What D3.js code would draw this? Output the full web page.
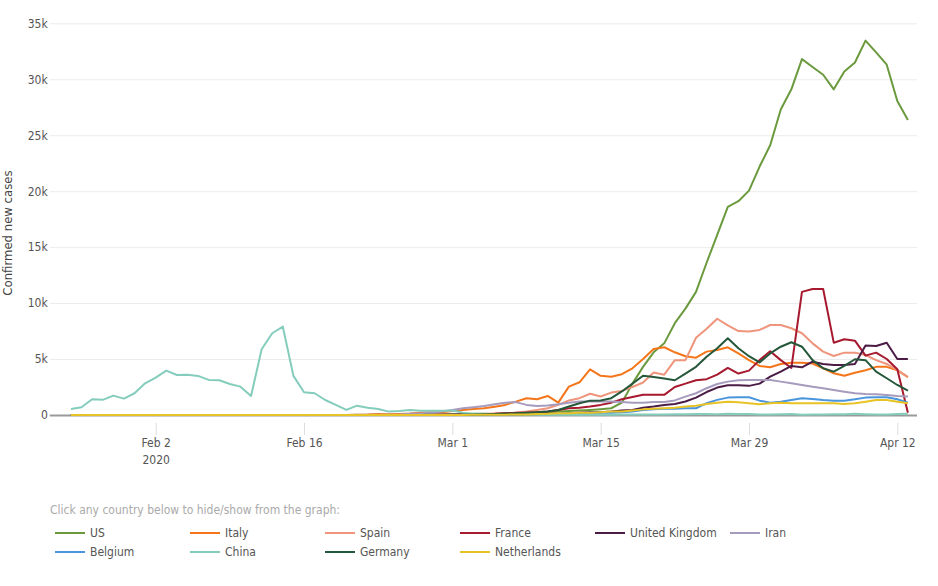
<!DOCTYPE html>
<html>
  <head>
    <meta charset="utf-8">
    <script src="https://d3js.org/d3.v7.min.js"></script>
    <style>
      body { margin: 0; background: #fff; }
      svg text { font-family: "DejaVu Sans Condensed", "DejaVu Sans", sans-serif; }
    </style>
  </head>
  <body>
    <svg width="938" height="586" id="chart"></svg>
    <script>

    // countries, in legend / drawing order
    var countries = ["US", "Italy", "Spain", "France", "United Kingdom", "Iran", "Belgium", "China", "Germany", "Netherlands"];
    var colors = ["#6b9a3e", "#f5761a", "#ee957c", "#a6192e", "#4b1c46", "#a69bbd", "#4a95dc", "#84cdbd", "#25573a", "#e8c325"];

    // daily new confirmed cases, Jan 25 2020 .. Apr 13 2020
    var us = [0,3,0,0,0,0,1,1,1,3, 0,0,0,0,1,0,0,1,0,0, 0,0,0,0,0,0,0,0,2,0,
      0,0,6,1,2,3,8,6,23,20, 40,60,110,120,110,250,300,350,400,450,
      520,600,1100,2800,4300,5600,6400,8200,9500,11000,
      13600,16100,18600,19100,20050,22200,24100,27300,29100,31800,
      31100,30400,29100,30700,31500,33450,32400,31300,28060,26360];
    var italy = [0,0,0,0,0,0,2,0,0,0, 0,0,0,0,1,0,0,0,0,0, 0,0,0,0,0,0,0,17,42,93,
      74,93,131,202,233,240,350,450,540,600, 740,900,1190,1490,1400,1700,1100,2530,2920,4080,
      3500,3420,3640,4170,5000,5900,6050,5600,5250,5120,
      5660,5800,6050,5500,4900,4380,4260,4560,4670,4670,
      4600,4170,3730,3500,3780,4000,4300,4300,4000,3370];
    var spain = [0,0,0,0,0,0,0,1,0,0, 0,0,0,0,0,0,0,1,0,0, 0,0,0,0,0,0,0,0,0,0,
      0,1,10,5,17,13,40,50,90,100, 120,150,200,300,450,600,900,1300,1500,1900,
      1650,2000,2150,2500,2900,3800,3600,4900,4900,6900,
      7700,8600,8000,7500,7450,7600,8040,8040,7750,7300,
      6400,5660,5270,5570,5570,5360,4900,4560,4000,3400];
    var france = [3,0,0,0,1,0,0,0,0,0, 0,0,0,0,5,0,0,1,0,0, 0,0,0,0,0,0,0,0,0,0,
      0,0,6,20,19,43,30,61,13,84, 100,150,200,200,250,300,450,600,650,750,
      900,1100,1400,1600,1800,1800,1800,2500,2800,3100,
      3200,3600,4200,3700,3960,4900,5700,4900,4200,11000,
      11260,11260,6460,6760,6640,5300,5570,5000,4080,200];
    var uk = [0,0,0,0,0,0,2,0,0,0, 0,0,0,0,1,0,0,0,0,0, 0,0,0,0,0,0,0,0,0,0,
      4,0,0,2,5,3,12,13,4,11, 30,50,50,50,70,100,100,150,200,250,
      250,300,400,450,650,750,900,980,1200,1550,
      2050,2450,2650,2650,2600,2800,3420,3870,4380,4260,
      4760,4560,4470,4470,4560,6200,6170,6460,5000,5000];
    var iran = [0,0,0,0,0,0,0,0,0,0, 0,0,0,0,0,0,0,0,0,0, 0,0,0,0,0,2,3,13,10,15,
      25,50,100,140,200,300,450,600,700,800, 950,1100,1150,900,800,850,950,1100,1200,1200,
      1200,1200,1150,1100,1100,1150,1150,1300,1640,1940,
      2390,2770,2980,3100,3130,3130,3130,2980,2830,2680,
      2530,2390,2230,2080,1940,1880,1850,1790,1700,1640];
    var belgium = [0,0,0,0,0,0,0,0,0,0, 1,0,0,0,0,0,0,0,0,0, 0,0,0,0,0,0,0,0,0,0,
      0,0,0,0,0,0,1,7,6,10, 23,50,60,80,100,50,100,150,150,200,
      200,200,250,300,450,500,550,550,600,600,
      1050,1350,1550,1580,1580,1280,1100,1190,1340,1490,
      1430,1340,1280,1280,1400,1550,1580,1580,1400,1100];
    var china = [540,690,1400,1350,1730,1460,1940,2830,3330,3960,
      3570,3600,3490,3130,3100,2770,2530,1700,5870,7300,
      7890,3490,2030,1940,1340,900,450,830,650,540,
      300,360,450,380,380,380,400,200,120,100, 60,40,45,20,25,10,25,20,15,20,
      25,30,40,45,50,40,45,60,70,80, 90,60,100,80,80,50,50,70,80,30,
      40,40,60,60,100,60,40,50,90,100];
    var germany = [0,0,0,1,3,0,0,0,0,2, 0,0,0,0,0,0,0,0,0,0, 0,0,0,0,0,0,0,0,0,0,
      0,0,0,5,20,10,45,30,50,60, 80,120,150,200,250,300,450,750,1050,1280,
      1300,1500,2100,2800,3500,3400,3250,3100,3700,4300,
      5200,5960,6850,5960,5250,4700,5500,6100,6500,6100,
      4900,4170,3870,4380,4980,4900,3870,3280,2680,2170];
    var netherlands = [0,0,0,0,0,0,0,0,0,0, 0,0,0,0,0,0,0,0,0,0, 0,0,0,0,0,0,0,0,0,0,
      0,0,0,0,1,1,6,5,14,14, 20,30,50,50,80,100,150,150,200,200,
      250,300,300,400,500,550,600,650,750,830,
      980,1100,1190,1130,1050,960,1050,1100,1050,1050,
      1050,1050,1050,980,1050,1190,1340,1340,1190,1050];

    var seriesValues = [us, italy, spain, france, uk, iran, belgium, china, germany, netherlands];

    var yTicks = [0, 5000, 10000, 15000, 20000, 25000, 30000, 35000];
    var xTicks = ["2020-02-02", "2020-02-16", "2020-03-01", "2020-03-15", "2020-03-29", "2020-04-12"];

    var parse = d3.timeParse("%Y-%m-%d");
    var dates = d3.timeDay.range(parse("2020-01-25"), parse("2020-04-14"));

    var svg = d3.select("#chart");
    var plotLeft = 49.75, plotRight = 918.5, plotTop = 23.3, plotBottom = 422.8;

    var x = d3.scaleTime()
        .domain([parse("2020-01-23"), parse("2020-04-14")])
        .range([plotLeft, plotRight]);
    var y = d3.scaleLinear()
        .domain([-700, 35000])
        .range([plotBottom, plotTop]);

    // horizontal grid + y labels
    var yAxis = svg.append("g")
        .attr("transform", "translate(" + plotLeft + ",0)")
        .call(d3.axisLeft(y).tickValues(yTicks).tickSize(-(917 - plotLeft)).tickPadding(2)
          .tickFormat(function(d) { return d === 0 ? "0" : (d / 1000) + "k"; }));
    yAxis.select(".domain").remove();
    yAxis.selectAll(".tick line")
        .attr("stroke", function(d) { return d === 0 ? "#9a9a9a" : "#ececec"; })
        .attr("stroke-width", function(d) { return d === 0 ? 2 : 1; });
    yAxis.selectAll(".tick text")
        .attr("fill", "#555")
        .attr("font-size", "12px");

    // x axis (ticks hang below the plot)
    var xAxis = svg.append("g")
        .attr("transform", "translate(0," + plotBottom + ")")
        .call(d3.axisBottom(x).tickValues(xTicks.map(parse)).tickSize(12).tickPadding(4)
          .tickFormat(d3.timeFormat("%b %-d")));
    xAxis.select(".domain").remove();
    xAxis.selectAll(".tick line").attr("stroke", "#dcdcdc");
    xAxis.selectAll(".tick text")
        .attr("fill", "#555")
        .attr("font-size", "12px");
    xAxis.select(".tick text")
      .append("tspan")
        .attr("x", 0)
        .attr("dy", "1.35em")
        .text("2020");

    svg.append("text")
        .attr("transform", "translate(12," + ((plotTop + plotBottom) / 2 + 10) + ") rotate(-90)")
        .attr("text-anchor", "middle")
        .attr("fill", "#444")
        .attr("font-size", "13px")
        .text("Confirmed new cases");

    var line = d3.line()
        .x(function(d, i) { return x(dates[i]); })
        .y(function(d) { return y(d); });

    svg.append("g")
      .selectAll("path")
      .data(seriesValues)
      .enter().append("path")
        .attr("d", line)
        .attr("fill", "none")
        .attr("stroke", function(d, i) { return colors[i]; })
        .attr("stroke-width", 2)
        .attr("stroke-linejoin", "round");

    // legend
    svg.append("text")
        .attr("x", 50)
        .attr("y", 514)
        .attr("fill", "#aaa")
        .attr("font-size", "12px")
        .text("Click any country below to hide/show from the graph:");

    var legend = svg.append("g")
      .selectAll("g")
      .data(countries)
      .enter().append("g")
        .attr("transform", function(d, i) {
          return "translate(" + (55 + (i % 6) * 135) + "," + (533 + Math.floor(i / 6) * 19) + ")";
        });
    legend.append("line")
        .attr("x1", 0).attr("x2", 30)
        .attr("stroke", function(d, i) { return colors[i]; })
        .attr("stroke-width", 2);
    legend.append("text")
        .attr("x", 35)
        .attr("dy", "0.35em")
        .attr("fill", "#555")
        .attr("font-size", "12px")
        .text(function(d) { return d; });

    </script>
  </body>
</html>
